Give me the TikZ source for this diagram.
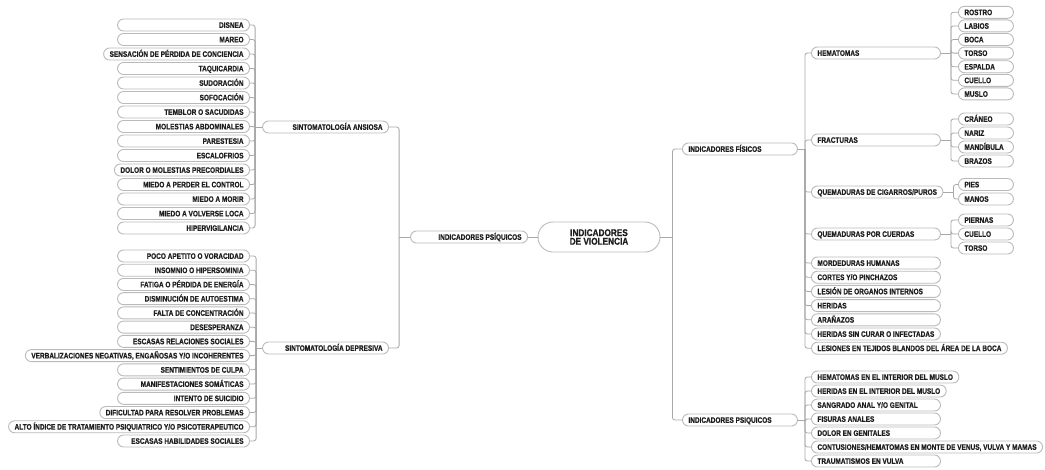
\documentclass[tikz,border=0pt]{standalone}
\usepackage{fontspec}
\usepackage{tikz}
\newfontfamily\condfont{Liberation Sans Bold}[FakeStretch=0.81, FakeBold=0.6]
\newfontfamily\hubcondfont{Liberation Sans Bold}[FakeStretch=0.84, FakeBold=0.6]
\definecolor{pillgray}{HTML}{BABABA}
\definecolor{linkgray}{HTML}{A8A8A8}
\definecolor{inkgray}{HTML}{1E1E1E}
\newcommand\pillfont{\condfont\fontsize{8}{8}\selectfont}
\newcommand\hubfont{\hubcondfont\fontsize{9.8}{8.6}\selectfont}
% pad a label to a minimum width, flush right or flush left
\newlength\padw
\newcommand\padL[2]{\settowidth\padw{#2}\ifdim\padw<#1\relax\makebox[#1][r]{#2}\else#2\fi}
\newcommand\padR[2]{\settowidth\padw{#2}\ifdim\padw<#1\relax\makebox[#1][l]{#2}\else#2\fi}
\tikzset{
  pillbase/.style={rectangle, draw=pillgray, line width=0.9pt, fill=white, text=inkgray},
  pill/.style={pillbase, rounded corners=6pt, minimum height=12pt, inner xsep=6pt,
               inner ysep=0pt, text height=5.7pt, text depth=0pt, font=\pillfont},
  hub/.style={pillbase, rounded corners=15pt, minimum width=122pt, minimum height=30pt,
              align=center, font=\hubfont},
  link/.style={draw=linkgray, line width=0.8pt, rounded corners=2.5pt},
}

\begin{document}
\begin{tikzpicture}[x=1pt, y=-1pt]
\useasboundingbox (0,0) rectangle (1045,469);

% centre
\node[hub] (main) at (599,237) {INDICADORES\\DE VIOLENCIA};

% left half
\node[pill, anchor=east] (psiL) at (528,237) {\padL{105pt}{INDICADORES PSÍQUICOS}};
\node[pill, anchor=east] (ans) at (389,127) {\padL{114pt}{SINTOMATOLOGÍA ANSIOSA}};
\node[pill, anchor=east] (dep) at (389,348) {\padL{114pt}{SINTOMATOLOGÍA DEPRESIVA}};

\foreach \txt [count=\i] in {DISNEA, MAREO, SENSACIÓN DE PÉRDIDA DE CONCIENCIA,
    TAQUICARDIA, SUDORACIÓN, SOFOCACIÓN, TEMBLOR O SACUDIDAS, MOLESTIAS ABDOMINALES,
    PARESTESIA, ESCALOFRIOS, DOLOR O MOLESTIAS PRECORDIALES, MIEDO A PERDER EL CONTROL,
    MIEDO A MORIR, MIEDO A VOLVERSE LOCA, HIPERVIGILANCIA}
  \node[pill, anchor=east] (a\i) at (250,{25+14.5*(\i-1)}) {\padL{120pt}{\txt}};

\foreach \txt [count=\i] in {POCO APETITO O VORACIDAD, INSOMNIO O HIPERSOMINIA,
    FATIGA O PÉRDIDA DE ENERGÍA, DISMINUCIÓN DE AUTOESTIMA, FALTA DE CONCENTRACIÓN,
    DESESPERANZA, ESCASAS RELACIONES SOCIALES,
    {VERBALIZACIONES NEGATIVAS, ENGAÑOSAS Y/O INCOHERENTES}, SENTIMIENTOS DE CULPA,
    MANIFESTACIONES SOMÁTICAS, INTENTO DE SUICIDIO, DIFICULTAD PARA RESOLVER PROBLEMAS,
    ALTO ÍNDICE DE TRATAMIENTO PSIQUIATRICO Y/O PSICOTERAPEUTICO,
    ESCASAS HABILIDADES SOCIALES}
  \node[pill, anchor=east] (d\i) at (250,{256+14.23*(\i-1)}) {\padL{120pt}{\txt}};

% right half
\node[pill, anchor=west] (fis) at (682,149) {\padR{103pt}{INDICADORES FÍSICOS}};
\node[pill, anchor=west] (psiR) at (682,420) {\padR{103pt}{INDICADORES PSIQUICOS}};

\node[pill, anchor=west] (f1) at (811,53) {\padR{117pt}{HEMATOMAS}};
\node[pill, anchor=west] (f2) at (811,140) {\padR{117pt}{FRACTURAS}};
\node[pill, anchor=west] (f3) at (811,192) {\padR{117pt}{QUEMADURAS DE CIGARROS/PUROS}};
\node[pill, anchor=west] (f4) at (811,234) {\padR{117pt}{QUEMADURAS POR CUERDAS}};
\foreach \txt [count=\i from 5] in {MORDEDURAS HUMANAS, CORTES Y/O PINCHAZOS,
    LESIÓN DE ORGANOS INTERNOS, HERIDAS, ARAÑAZOS, HERIDAS SIN CURAR O INFECTADAS,
    LESIONES EN TEJIDOS BLANDOS DEL ÁREA DE LA BOCA}
  \node[pill, anchor=west] (f\i) at (811,{263+14.2*(\i-5)}) {\padR{117pt}{\txt}};

\foreach \txt [count=\i] in {HEMATOMAS EN EL INTERIOR DEL MUSLO,
    HERIDAS EN EL INTERIOR DEL MUSLO, SANGRADO ANAL Y/O GENITAL, FISURAS ANALES,
    DOLOR EN GENITALES, {CONTUSIONES/HEMATOMAS EN MONTE DE VENUS, VULVA Y MAMAS},
    TRAUMATISMOS EN VULVA}
  \node[pill, anchor=west] (p\i) at (811,{377+14*(\i-1)}) {\padR{117pt}{\txt}};

% body parts
\foreach \txt [count=\i] in {ROSTRO, LABIOS, BOCA, TORSO, ESPALDA, CUELLO, MUSLO}
  \node[pill, anchor=west] (h\i) at (958,{12.3+13.6*(\i-1)}) {\padR{43pt}{\txt}};
\foreach \txt [count=\i] in {CRÁNEO, NARIZ, MANDÍBULA, BRAZOS}
  \node[pill, anchor=west] (r\i) at (958,{119+14*(\i-1)}) {\padR{43pt}{\txt}};
\foreach \txt [count=\i] in {PIES, MANOS}
  \node[pill, anchor=west] (c\i) at (958,{184.5+14.5*(\i-1)}) {\padR{43pt}{\txt}};
\foreach \txt [count=\i] in {PIERNAS, CUELLO, TORSO}
  \node[pill, anchor=west] (u\i) at (958,{220+14*(\i-1)}) {\padR{43pt}{\txt}};

% connectors
\draw[link] (main.west) -- (psiL.east);
\draw[link] (psiL.west) -- ++(-11,0) coordinate (psiLbus);
\draw[link] (psiLbus) |- (ans.east);
\draw[link] (psiLbus) |- (dep.east);
\draw[link] (ans.west) -- ++(-7,0) coordinate (ansbus);
\foreach \i in {1,...,15} \draw[link] (ansbus) |- (a\i.east);
\draw[link] (dep.west) -- ++(-6,0) coordinate (depbus);
\foreach \i in {1,...,14} \draw[link] (depbus) |- (d\i.east);

\draw[link] (main.east) -- ++(12,0) coordinate (mainbus);
\draw[link] (mainbus) |- (fis.west);
\draw[link] (mainbus) |- (psiR.west);
\draw[link] (fis.east) -- ++(7,0) coordinate (fisbus);
\foreach \i in {1,...,11} \draw[link] (fisbus) |- (f\i.west);
\draw[link] (psiR.east) -- ++(7,0) coordinate (psiRbus);
\foreach \i in {1,...,7} \draw[link] (psiRbus) |- (p\i.west);

\draw[link] (f1.east) -- ++(10,0) coordinate (f1bus);
\foreach \i in {1,...,7} \draw[link] (f1bus) |- (h\i.west);
\draw[link] (f2.east) -- ++(10,0) coordinate (f2bus);
\foreach \i in {1,...,4} \draw[link] (f2bus) |- (r\i.west);
\draw[link] (f3.east) -- ++(10,0) coordinate (f3bus);
\foreach \i in {1,2} \draw[link] (f3bus) |- (c\i.west);
\draw[link] (f4.east) -- ++(10,0) coordinate (f4bus);
\foreach \i in {1,...,3} \draw[link] (f4bus) |- (u\i.west);
\end{tikzpicture}
\end{document}
